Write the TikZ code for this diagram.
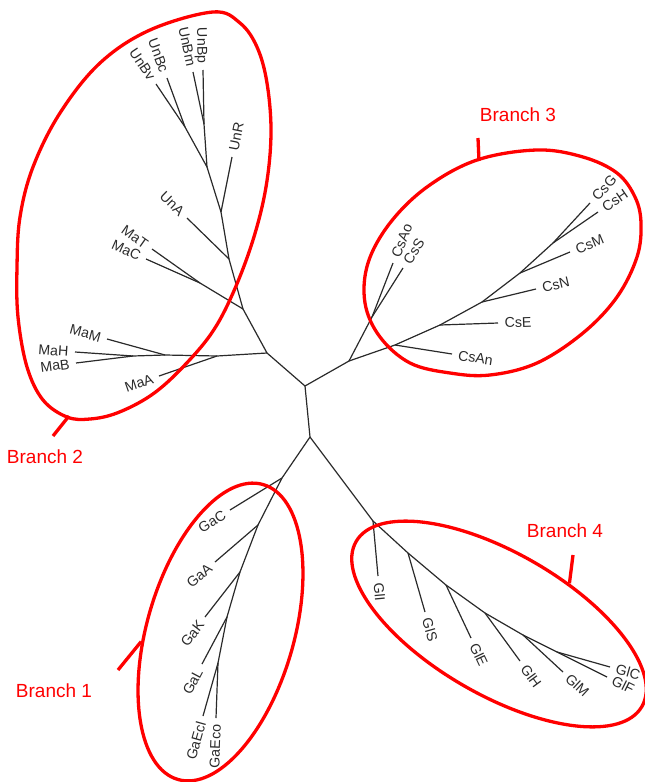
\documentclass[tikz,border=0pt]{standalone}
\usepackage{fontspec}
\setmainfont{Liberation Sans}
\usetikzlibrary{shapes.geometric}
\definecolor{treeline}{HTML}{2A2A2A}
\definecolor{bred}{HTML}{FF0000}
\tikzset{
 br/.style={draw=treeline, line width=1.2pt},
 lab/.style={font=\fontsize{14.2}{16}\selectfont, text=treeline, inner xsep=6pt, inner ysep=0pt, text height=10.2pt, text depth=0pt, sloped},
 labR/.style={lab, anchor=west},
 labL/.style={lab, anchor=east},
 grp/.style={draw=bred, line width=3.3pt, ellipse, inner sep=0pt},
 grpline/.style={draw=bred, line width=3.3pt},
 tickline/.style={draw=bred, line width=3.3pt},
 blab/.style={font=\fontsize{19}{22}\selectfont, text=bred, inner sep=0pt},
}
\newcommand{\leafR}[3]{\draw[br] (#1) -- (#2) node[labR, pos=1] (lab#3) {#3};}
\newcommand{\leafL}[3]{\draw[br] (#1) -- (#2) node[labL, pos=1] (lab#3) {#3};}
\begin{document}
\begin{tikzpicture}[x=1pt, y=-1pt]
\useasboundingbox (0,0) rectangle (645,782);
% centre
\coordinate (c0) at (305,386);
\coordinate (c2) at (267,353);
\coordinate (c3) at (349,361);
\coordinate (c14) at (310,437);
\draw[br] (c0) -- (c2);
\draw[br] (c0) -- (c3);
\draw[br] (c0) -- (c14);
% branch 2
\coordinate (u1) at (243,309);
\coordinate (mTC) at (200,283);
\coordinate (tMaT) at (152,249);
\coordinate (tMaC) at (146,259);
\coordinate (u2) at (229,259);
\coordinate (tUnA) at (187,218);
\coordinate (u3) at (221,212);
\coordinate (tUnR) at (232,157);
\coordinate (u4) at (207,167);
\coordinate (u5) at (204,124);
\coordinate (tUnBm) at (193,72);
\coordinate (tUnBp) at (203,70);
\coordinate (u6) at (185,127);
\coordinate (tUnBc) at (167,78);
\coordinate (tUnBv) at (156,84);
\coordinate (m1) at (217,356);
\coordinate (tMaA) at (159,376);
\coordinate (m2) at (165,355);
\coordinate (tMaM) at (107,339);
\coordinate (m3) at (133,356);
\coordinate (tMaH) at (75,352);
\coordinate (tMaB) at (76,363);
\draw[br] (c2) -- (u1);
\draw[br] (u1) -- (mTC);
\leafL{mTC}{tMaT}{MaT}
\leafL{mTC}{tMaC}{MaC}
\draw[br] (u1) -- (u2);
\leafL{u2}{tUnA}{UnA}
\draw[br] (u2) -- (u3);
\leafR{u3}{tUnR}{UnR}
\draw[br] (u3) -- (u4);
\draw[br] (u4) -- (u5);
\leafL{u5}{tUnBm}{UnBm}
\leafL{u5}{tUnBp}{UnBp}
\draw[br] (u4) -- (u6);
\leafL{u6}{tUnBc}{UnBc}
\leafL{u6}{tUnBv}{UnBv}
\draw[br] (c2) -- (m1);
\leafL{m1}{tMaA}{MaA}
\draw[br] (m1) -- (m2);
\leafL{m2}{tMaM}{MaM}
\draw[br] (m2) -- (m3);
\leafL{m3}{tMaH}{MaH}
\leafL{m3}{tMaB}{MaB}
% branch 3
\coordinate (s1) at (372,317);
\coordinate (tCsAo) at (393,263);
\coordinate (tCsS) at (403,268);
\coordinate (s2) at (395,345);
\coordinate (tCsAn) at (452,354);
\coordinate (s3) at (440,325);
\coordinate (tCsE) at (498,323);
\coordinate (s4) at (482,302);
\coordinate (tCsN) at (536,289);
\coordinate (s5) at (520,273);
\coordinate (tCsM) at (570,252);
\coordinate (s6) at (553,243);
\coordinate (tCsG) at (590,203);
\coordinate (tCsH) at (598,212);
\draw[br] (c3) -- (s1);
\leafR{s1}{tCsAo}{CsAo}
\leafR{s1}{tCsS}{CsS}
\draw[br] (c3) -- (s2);
\leafR{s2}{tCsAn}{CsAn}
\draw[br] (s2) -- (s3);
\leafR{s3}{tCsE}{CsE}
\draw[br] (s3) -- (s4);
\leafR{s4}{tCsN}{CsN}
\draw[br] (s4) -- (s5);
\leafR{s5}{tCsM}{CsM}
\draw[br] (s5) -- (s6);
\leafR{s6}{tCsG}{CsG}
\leafR{s6}{tCsH}{CsH}
% branch 1
\coordinate (g1) at (282,478);
\coordinate (tGaC) at (230,510);
\coordinate (g2) at (258,525);
\coordinate (tGaA) at (215,562);
\coordinate (g3) at (240,572);
\coordinate (tGaK) at (205,617);
\coordinate (g4) at (227,617);
\coordinate (tGaL) at (202,664);
\coordinate (g5) at (218,663);
\coordinate (tGaEcl) at (203,716);
\coordinate (tGaEco) at (216,718);
\draw[br] (c14) -- (g1);
\leafL{g1}{tGaC}{GaC}
\draw[br] (g1) -- (g2);
\leafL{g2}{tGaA}{GaA}
\draw[br] (g2) -- (g3);
\leafL{g3}{tGaK}{GaK}
\draw[br] (g3) -- (g4);
\leafL{g4}{tGaL}{GaL}
\draw[br] (g4) -- (g5);
\leafL{g5}{tGaEcl}{GaEcl}
\leafL{g5}{tGaEco}{GaEco}
% branch 4
\coordinate (l1) at (373,521);
\coordinate (tGlI) at (378,576);
\coordinate (l2) at (408,553);
\coordinate (tGlS) at (425,612);
\coordinate (l3) at (446,585);
\coordinate (tGlE) at (471,638);
\coordinate (l4) at (485,613);
\coordinate (tGlH) at (520,661);
\coordinate (l5) at (523,635);
\coordinate (tGlM) at (563,672);
\coordinate (l6) at (557,652);
\coordinate (tGlC) at (610,667);
\coordinate (tGlF) at (607,677);
\draw[br] (c14) -- (l1);
\leafR{l1}{tGlI}{GlI}
\draw[br] (l1) -- (l2);
\leafR{l2}{tGlS}{GlS}
\draw[br] (l2) -- (l3);
\leafR{l3}{tGlE}{GlE}
\draw[br] (l3) -- (l4);
\leafR{l4}{tGlH}{GlH}
\draw[br] (l4) -- (l5);
\leafR{l5}{tGlM}{GlM}
\draw[br] (l5) -- (l6);
\leafR{l6}{tGlC}{GlC}
\leafR{l6}{tGlF}{GlF}
% group outlines
\draw[grpline] plot[smooth cycle, tension=0.6] coordinates {
 (213,12) (150,30) (100,63) (60,113) (33,167) (20,217) (17,267) (18,317)
 (27,367) (43,400) (67,417) (90,419) (117,413) (150,396) (179,371)
 (211,334) (233,293) (253,240) (266,187) (271,133) (267,83) (257,47) (240,23)};
\draw[grpline] plot[smooth cycle, tension=0.6] coordinates {
 (537,150) (583,157) (617,173) (635,197) (641,223) (637,257) (617,297)
 (583,333) (537,363) (490,375) (450,373) (410,363) (380,337) (365,303)
 (368,263) (390,223) (427,187) (477,160)};
\node[grp, minimum width=330pt, minimum height=142pt, rotate=-30] (e4) at (499,624) {};
\node[grp, minimum width=307pt, minimum height=147pt, rotate=73.9] (e1) at (220.5,632) {};
\coordinate (k2a) at (69,416);
\coordinate (k2) at (53,436);
\coordinate (k3a) at (479,161);
\coordinate (k3) at (478,138);
\coordinate (k4) at (573,555);
\coordinate (k1) at (118,670);
\draw[tickline] (k2a) -- (k2);
\draw[tickline] (k3a) -- (k3);
\draw[tickline] (e4.60) -- (k4);
\draw[tickline] (e1.113) -- (k1);
\node[blab] (b1) at (54,691) {Branch 1};
\node[blab] (b2) at (45,457) {Branch 2};
\node[blab] (b3) at (518,115) {Branch 3};
\node[blab] (b4) at (565,531) {Branch 4};
\end{tikzpicture}
\end{document}
